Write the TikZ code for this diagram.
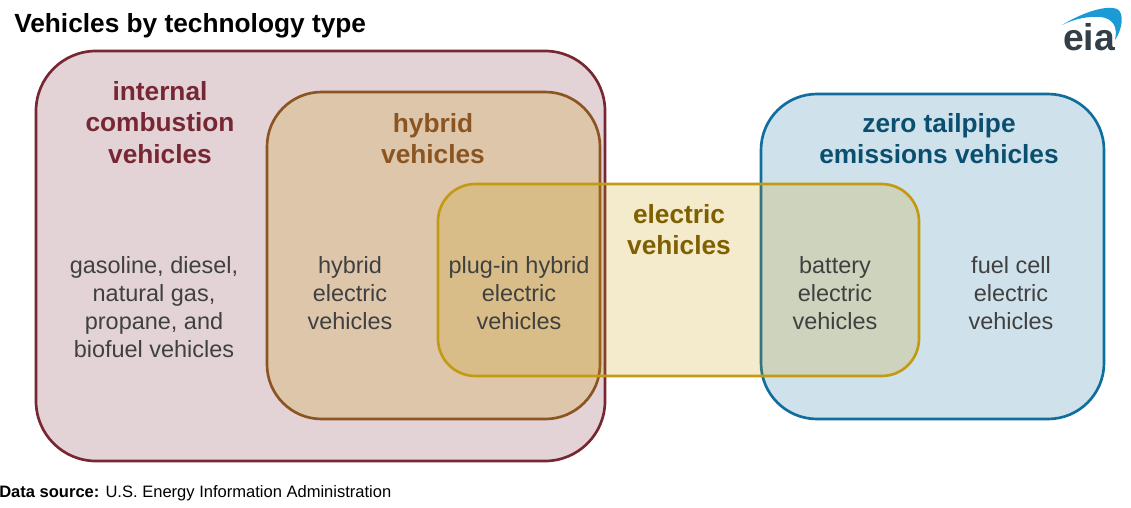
\documentclass[tikz,border=0pt]{standalone}
\usepackage{fontspec}
\setmainfont{Liberation Sans}
\definecolor{icecol}{HTML}{772733}
\definecolor{hybcol}{HTML}{8B5521}
\definecolor{hybfill}{HTML}{CB9300}
\definecolor{elecol}{HTML}{C39B12}
\definecolor{elefill}{HTML}{C89A00}
\definecolor{zercol}{HTML}{0F6E9E}
\definecolor{bodycol}{HTML}{404040}
\definecolor{eiagrey}{HTML}{333F48}
\definecolor{eiablue}{HTML}{1B9AD6}
\definecolor{elehead}{HTML}{7F6000}
\definecolor{zerhead}{HTML}{0B4F70}
\tikzset{
  x=0.75pt,y=-0.75pt,
  setbox/.style={rounded corners=#1,line width=2pt,inner sep=0pt,outer sep=0pt},
  head/.style={font=\fontsize{19.7pt}{23.4pt}\selectfont\bfseries,align=center,inner sep=0pt},
  body/.style={text=bodycol,font=\fontsize{17.6pt}{21pt}\selectfont,align=center,inner sep=0pt},
}
\begin{document}
\begin{tikzpicture}
\useasboundingbox (0,0) rectangle (1131,507);
\fill[white] (0,0) rectangle (1131,507);
\path[setbox=42pt,draw=zercol,fill=zercol,fill opacity=0.2] (761,94) rectangle (1104,419);
\path[setbox=45pt,draw=icecol,fill=icecol,fill opacity=0.2] (36,51) rectangle (605,461);
\path[setbox=41pt,draw=hybcol,fill=hybfill,fill opacity=0.2] (267,92) rectangle (600,419);
\path[setbox=28pt,draw=elecol,fill=elefill,fill opacity=0.2] (438,184) rectangle (919,376);

\node[anchor=west,inner sep=0pt,font=\fontsize{19.7pt}{22pt}\selectfont\bfseries] (title) at (14,25.5) {Vehicles by technology type};
\node[head,text=icecol] (icehead) at (160,122.5) {internal\\combustion\\vehicles};
\node[head,text=hybcol] (hybhead) at (433,138.5) {hybrid\\vehicles};
\node[head,text=elehead] (elehd) at (679,229.5) {electric\\vehicles};
\node[head,text=zerhead] (zerhd) at (939,138.5) {zero tailpipe\\emissions vehicles};
\node[body] (icebody) at (154,307) {gasoline, diesel,\\natural gas,\\propane, and\\biofuel vehicles};
\node[body] (hev) at (350,293) {hybrid\\electric\\vehicles};
\node[body] (phev) at (519,293) {plug-in hybrid\\electric\\vehicles};
\node[body] (bev) at (835,293) {battery\\electric\\vehicles};
\node[body] (fcev) at (1011,293) {fuel cell\\electric\\vehicles};
\node[anchor=west,inner sep=0pt,font=\fontsize{12.4pt}{14pt}\selectfont] (src) at (-1,493) {\textbf{Data source:} U.S. Energy Information Administration};
% logo
\fill[eiablue] (1062,25) .. controls (1085,11) and (1108,5) .. (1117,9) .. controls (1125,13) and (1122,30) .. (1115,40) .. controls (1118,27) and (1113,18) .. (1100,17) .. controls (1088,16) and (1074,19) .. (1062,25) -- cycle;
\node[anchor=base,inner sep=0pt,text=eiagrey,font=\fontsize{28pt}{28pt}\selectfont\bfseries] (logo) at (1089,50) {eia};
\end{tikzpicture}
\end{document}
